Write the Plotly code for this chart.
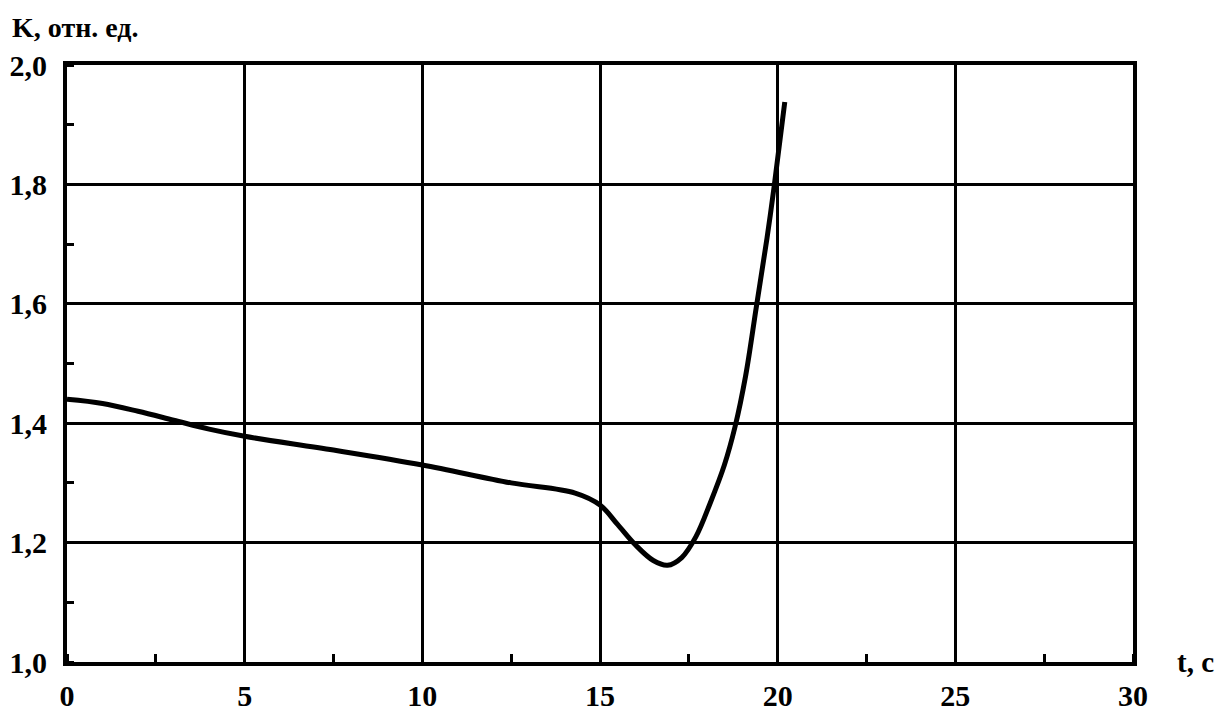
import plotly.graph_objects as go

# Data
t_vals = [0, 1, 2, 3, 4, 5, 7.5, 10, 12.5, 14.3, 15, 15.5, 16, 16.5, 16.9,
          17.3, 17.7, 18.1, 18.5, 18.8, 19.1, 19.4, 19.7, 19.9, 20.2]
k_vals = [1.44, 1.433, 1.42, 1.405, 1.39, 1.378, 1.355, 1.33, 1.30, 1.283,
          1.263, 1.23, 1.196, 1.17, 1.162, 1.175, 1.21, 1.266, 1.33, 1.394,
          1.48, 1.595, 1.71, 1.796, 1.938]

x_ticks = [0, 5, 10, 15, 20, 25, 30]
x_labels = ["0", "5", "10", "15", "20", "25", "30"]
y_ticks = [1.0, 1.2, 1.4, 1.6, 1.8, 2.0]
y_labels = ["1,0", "1,2", "1,4", "1,6", "1,8", "2,0"]

FONT = "Liberation Serif"

# page body has an 8px margin; compensate so plot area sits at 67..1133 x 65..662
W, H = 1215, 709
L, R, T, B = 59, 90, 57, 55
PW, PH = W - L - R, H - T - B

fig = go.Figure()
fig.add_trace(go.Scatter(
    x=t_vals, y=k_vals, mode="lines",
    line=dict(color="black", width=5, shape="spline", smoothing=1.0),
    showlegend=False, hoverinfo="skip",
))

fig.update_layout(
    width=W, height=H,
    margin=dict(l=L, r=R, t=T, b=B, autoexpand=False),
    paper_bgcolor="white", plot_bgcolor="white",
    font=dict(family=FONT, color="black"),
    xaxis=dict(
        range=[0, 30], tickvals=x_ticks, ticktext=x_labels, automargin=False,
        showgrid=True, gridcolor="black", gridwidth=3,
        showline=True, linecolor="black", linewidth=4, mirror=True,
        ticks="", zeroline=False, ticklabelstandoff=4,
        tickfont=dict(family=FONT, size=30, weight="bold", color="black"),
        minor=dict(dtick=2.5, tick0=0, ticks="inside", ticklen=8,
                   tickwidth=3, tickcolor="black", showgrid=False),
    ),
    yaxis=dict(
        range=[1.0, 2.0], tickvals=y_ticks, ticktext=y_labels, automargin=False,
        showgrid=True, gridcolor="black", gridwidth=3,
        showline=True, linecolor="black", linewidth=4, mirror=True,
        ticks="", zeroline=False, ticklabelstandoff=10,
        tickfont=dict(family=FONT, size=30, weight="bold", color="black"),
        minor=dict(dtick=0.1, tick0=1.0, ticks="inside", ticklen=7,
                   tickwidth=3, tickcolor="black", showgrid=False),
    ),
    annotations=[
        dict(text="K, отн. ед.", xref="paper", yref="paper",
             x=-(L - 2) / PW, y=1 + (T - 19) / PH, xanchor="left", yanchor="middle",
             showarrow=False,
             font=dict(family=FONT, size=28, weight="bold", color="black")),
        dict(text="t, c", xref="paper", yref="paper",
             x=1 + 42 / PW, y=0, xanchor="left", yanchor="middle",
             showarrow=False,
             font=dict(family=FONT, size=29, weight="bold", color="black")),
    ],
)

fig.write_html("out.html")
